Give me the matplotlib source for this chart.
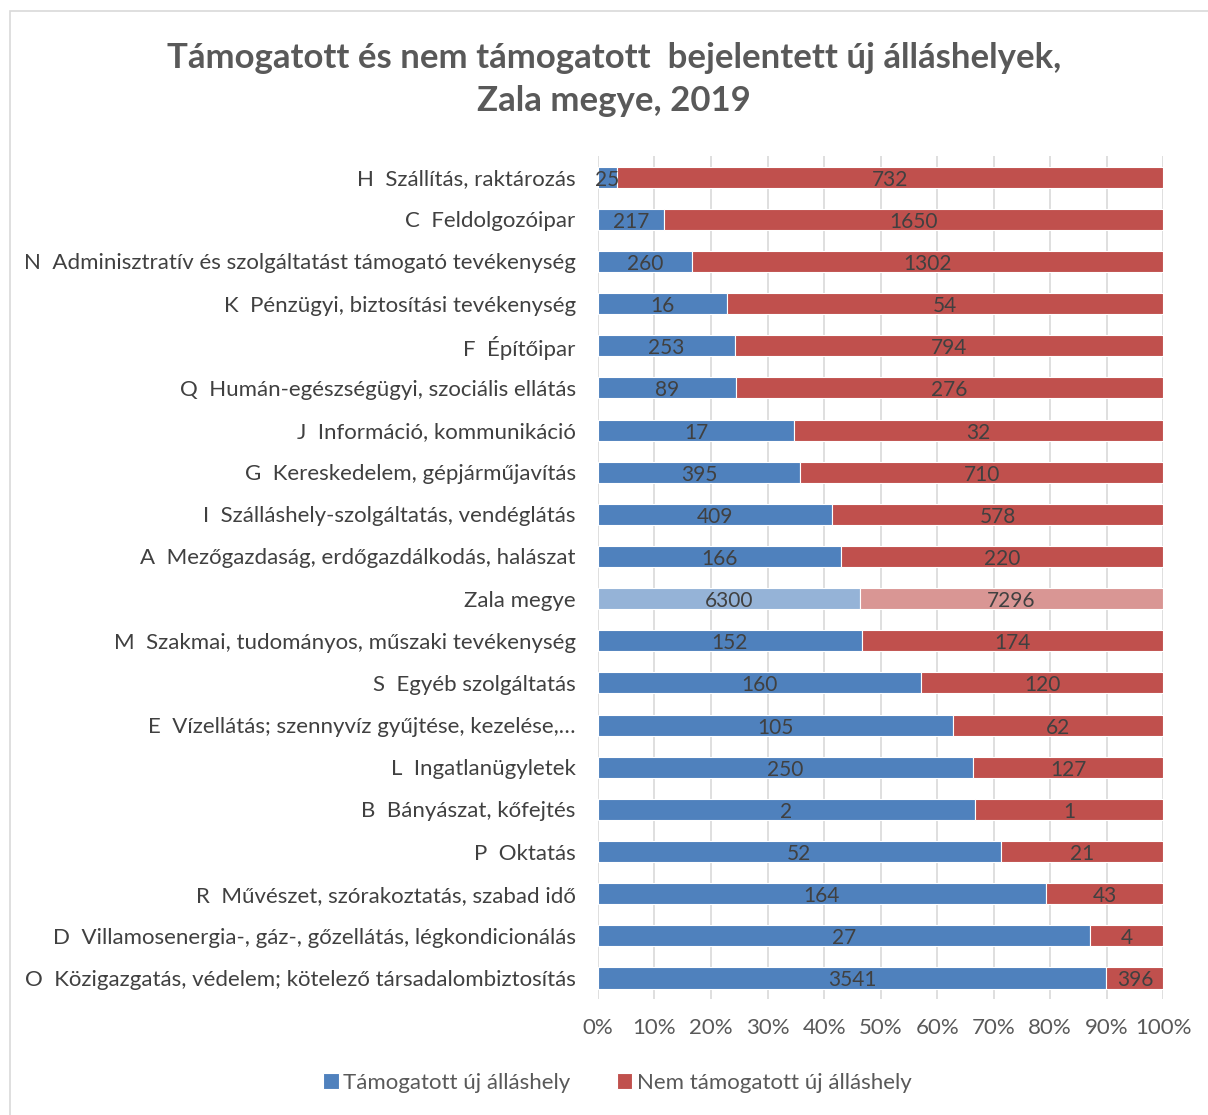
import numpy as np
import matplotlib.pyplot as plt
from matplotlib.patches import Rectangle

# Categories from top to bottom
categories = [
    "H  Szállítás, raktározás",
    "C  Feldolgozóipar",
    "N  Adminisztratív és szolgáltatást támogató tevékenység",
    "K  Pénzügyi, biztosítási tevékenység",
    "F  Építőipar",
    "Q  Humán-egészségügyi, szociális ellátás",
    "J  Információ, kommunikáció",
    "G  Kereskedelem, gépjárműjavítás",
    "I  Szálláshely-szolgáltatás, vendéglátás",
    "A  Mezőgazdaság, erdőgazdálkodás, halászat",
    "Zala megye",
    "M  Szakmai, tudományos, műszaki tevékenység",
    "S  Egyéb szolgáltatás",
    "E  Vízellátás; szennyvíz gyűjtése, kezelése,…",
    "L  Ingatlanügyletek",
    "B  Bányászat, kőfejtés",
    "P  Oktatás",
    "R  Művészet, szórakoztatás, szabad idő",
    "D  Villamosenergia-, gáz-, gőzellátás, légkondicionálás",
    "O  Közigazgatás, védelem; kötelező társadalombiztosítás",
]
supported = [25, 217, 260, 16, 253, 89, 17, 395, 409, 166, 6300,
             152, 160, 105, 250, 2, 52, 164, 27, 3541]
unsupported = [732, 1650, 1302, 54, 794, 276, 32, 710, 578, 220, 7296,
               174, 120, 62, 127, 1, 21, 43, 4, 396]
highlight = "Zala megye"

plt.rcParams['font.family'] = ['Lato', 'DejaVu Sans']

fig = plt.figure(figsize=(12.08, 11.15), dpi=100)
ax = fig.add_axes([0.495, 0.104, 0.468, 0.756])

sup = np.array(supported, dtype=float)
uns = np.array(unsupported, dtype=float)
tot = sup + uns
ps = sup / tot
pu = uns / tot
y = np.arange(len(categories))

blue = ["#95B3D7" if c == highlight else "#4F81BD" for c in categories]
red = ["#D99694" if c == highlight else "#C0504D" for c in categories]

ax.barh(y, ps, height=0.5, color=blue, edgecolor="white", linewidth=0.8, zorder=3,
        label="Támogatott új álláshely")
ax.barh(y, pu, left=ps, height=0.5, color=red, edgecolor="white", linewidth=0.8,
        zorder=3, label="Nem támogatott új álláshely")

for i in range(len(categories)):
    ax.text(ps[i] / 2, y[i] + 0.06, str(supported[i]), ha="center", va="center",
            fontsize=15, color="#404040", zorder=4)
    ax.text(ps[i] + pu[i] / 2, y[i] + 0.06, str(unsupported[i]), ha="center",
            va="center", fontsize=15, color="#404040", zorder=4)

ax.set_ylim(len(categories) - 0.5, -0.5)
ax.set_xlim(0, 1)
ax.set_yticks(y)
ax.set_yticklabels(categories, fontsize=16, color="#404040")
ax.set_xticks(np.arange(0, 1.01, 0.1))
ax.set_xticklabels([f"{int(round(v * 100))}%" for v in np.arange(0, 1.01, 0.1)],
                   fontsize=16, color="#595959")
ax.tick_params(axis="y", length=0, pad=16)
ax.tick_params(axis="x", length=0, pad=14)
ax.grid(axis="x", color="#D9D9D9", linewidth=1.2, zorder=0)
for s in ax.spines.values():
    s.set_visible(False)

fig.suptitle("Támogatott és nem támogatott  bejelentett új álláshelyek,\nZala megye, 2019",
             x=0.508, y=0.962, fontsize=25, fontweight="bold", color="#595959",
             linespacing=1.4)

fig.legend(loc="center", bbox_to_anchor=(0.511, 0.029), ncol=2, frameon=False,
           fontsize=16, labelcolor="#595959", handlelength=0.7, handleheight=0.7,
           handletextpad=0.2, columnspacing=2.1)

fig.patches.append(Rectangle((0.008, -0.01), 1.1, 1.0, transform=fig.transFigure,
                             fill=False, edgecolor="#D9D9D9", linewidth=1.2))

fig.savefig("out.png", dpi=100)
